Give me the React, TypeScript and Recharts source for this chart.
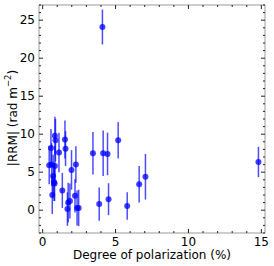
import { ScatterChart, Scatter, XAxis, YAxis, ErrorBar, ReferenceArea, Label } from "recharts";

// degree of polarization (%), |RRM| (rad m^-2) and its 1-sigma error
const polarization = [
  0.45, 0.57, 0.62, 0.66, 0.72, 0.78, 0.82, 0.84, 0.88, 0.84, 1.12,
  1.35, 1.53, 1.57, 1.7, 1.75, 1.87, 1.98, 2.22, 2.28, 2.36, 2.47,
  3.45, 3.88, 4.1, 4.15, 4.45, 4.52, 5.18, 5.8, 6.62, 7.05, 14.8,
];
const rrm = [
  5.9, 8.2, 6.0, 2.0, 4.5, 3.7, 3.5, 9.8, 9.2, 5.8, 7.6,
  2.6, 9.3, 8.1, 0.15, 1.0, 1.2, 5.3, 1.9, 6.0, 0.3, 0.3,
  7.5, 0.8, 24.1, 7.5, 7.4, 1.45, 9.2, 0.55, 3.4, 4.4, 6.35,
];
const rrmErr = [
  2.5, 2.5, 2.8, 2.5, 2.8, 2.5, 2.3, 2.5, 2.8, 2.6, 2.6,
  2.3, 2.5, 2.3, 2.2, 2.6, 2.3, 2.6, 2.2, 2.4, 2.3, 2.4,
  2.8, 2.2, 2.3, 3.0, 2.8, 2.1, 2.4, 1.8, 2.4, 3.0, 2.0,
];

const xTicks = [0, 1, 2, 3, 4, 5, 6, 7, 8, 9, 10, 11, 12, 13, 14, 15];
const yTicks = [-3, -2, -1, 0, 1, 2, 3, 4, 5, 6, 7, 8, 9, 10, 11, 12, 13, 14, 15,
  16, 17, 18, 19, 20, 21, 22, 23, 24, 25, 26, 27];

const W = 274;
const H = 266;
const M = { top: 5, right: 9, bottom: 7, left: 5 };
const Y_AXIS_W = 34;
const X_AXIS_H = 26;
const LEFT = M.left + Y_AXIS_W;
const RIGHT = W - M.right;
const TOP = M.top;
const BOTTOM = H - M.bottom - X_AXIS_H;

const BLUE = "#0000ff";
const FONT = "DejaVu Sans";

const data = polarization.map((x, i) => ({ x, y: rrm[i], err: rrmErr[i] }));

function XTick(props: any) {
  const { x, payload } = props;
  const v = payload.value as number;
  const major = v % 5 === 0;
  const len = major ? 4 : 2;
  return (
    <g>
      <line x1={x} x2={x} y1={BOTTOM} y2={BOTTOM - len} stroke="#222" />
      <line x1={x} x2={x} y1={TOP} y2={TOP + len} stroke="#222" />
      {major && (
        <text x={x} y={BOTTOM + 13} textAnchor="middle" fontSize={12} fontFamily={FONT} fill="#000">
          {v}
        </text>
      )}
    </g>
  );
}

function YTick(props: any) {
  const { y, payload } = props;
  const v = payload.value as number;
  const major = v % 5 === 0;
  const len = major ? 4 : 2;
  return (
    <g>
      <line x1={LEFT} x2={LEFT + len} y1={y} y2={y} stroke="#222" />
      <line x1={RIGHT} x2={RIGHT - len} y1={y} y2={y} stroke="#222" />
      {major && v >= 0 && (
        <text x={LEFT - 4} y={y + 4} textAnchor="end" fontSize={12} fontFamily={FONT} fill="#000">
          {v}
        </text>
      )}
    </g>
  );
}

function YLabel() {
  const cx = 13;
  const cy = 118;
  return (
    <text
      x={cx}
      y={cy}
      transform={`rotate(-90, ${cx}, ${cy})`}
      textAnchor="middle"
      dominantBaseline="central"
      fontSize={12}
      fontFamily={FONT}
      fill="#000"
    >
      |RRM| (rad m
      <tspan fontSize={8.5} dy={-5}>−2</tspan>
      <tspan dy={5}>)</tspan>
    </text>
  );
}

function Dot(props: any) {
  return <circle cx={props.cx} cy={props.cy} r={3} fill={BLUE} fillOpacity={0.75} />;
}

export default function App() {
  return (
    <div style={{ position: "absolute", left: 0, top: 0, background: "#fff" }}>
      <ScatterChart width={W} height={H} margin={M}>
        <ReferenceArea
          x1={-0.25}
          x2={15.25}
          y1={-3}
          y2={27}
          fill="none"
          stroke="#999"
          strokeWidth={1}
          ifOverflow="visible"
        />
        <XAxis
          type="number"
          dataKey="x"
          domain={[-0.25, 15.25]}
          ticks={xTicks}
          interval={0}
          height={X_AXIS_H}
          axisLine={false}
          tickLine={false}
          tick={XTick}
        >
          <Label
            value="Degree of polarization (%)"
            position="insideBottom"
            offset={0}
            fontSize={12}
            fontFamily={FONT}
            fill="#000"
          />
        </XAxis>
        <YAxis
          type="number"
          dataKey="y"
          domain={[-3, 27]}
          ticks={yTicks}
          interval={0}
          width={Y_AXIS_W}
          axisLine={false}
          tickLine={false}
          tick={YTick}
          label={YLabel}
        />
        <Scatter data={data} shape={Dot} isAnimationActive={false}>
          <ErrorBar
            dataKey="err"
            direction="y"
            width={0}
            stroke={BLUE}
            strokeWidth={1.5}
            strokeOpacity={0.7}
            isAnimationActive={false}
          />
        </Scatter>
      </ScatterChart>
    </div>
  );
}
